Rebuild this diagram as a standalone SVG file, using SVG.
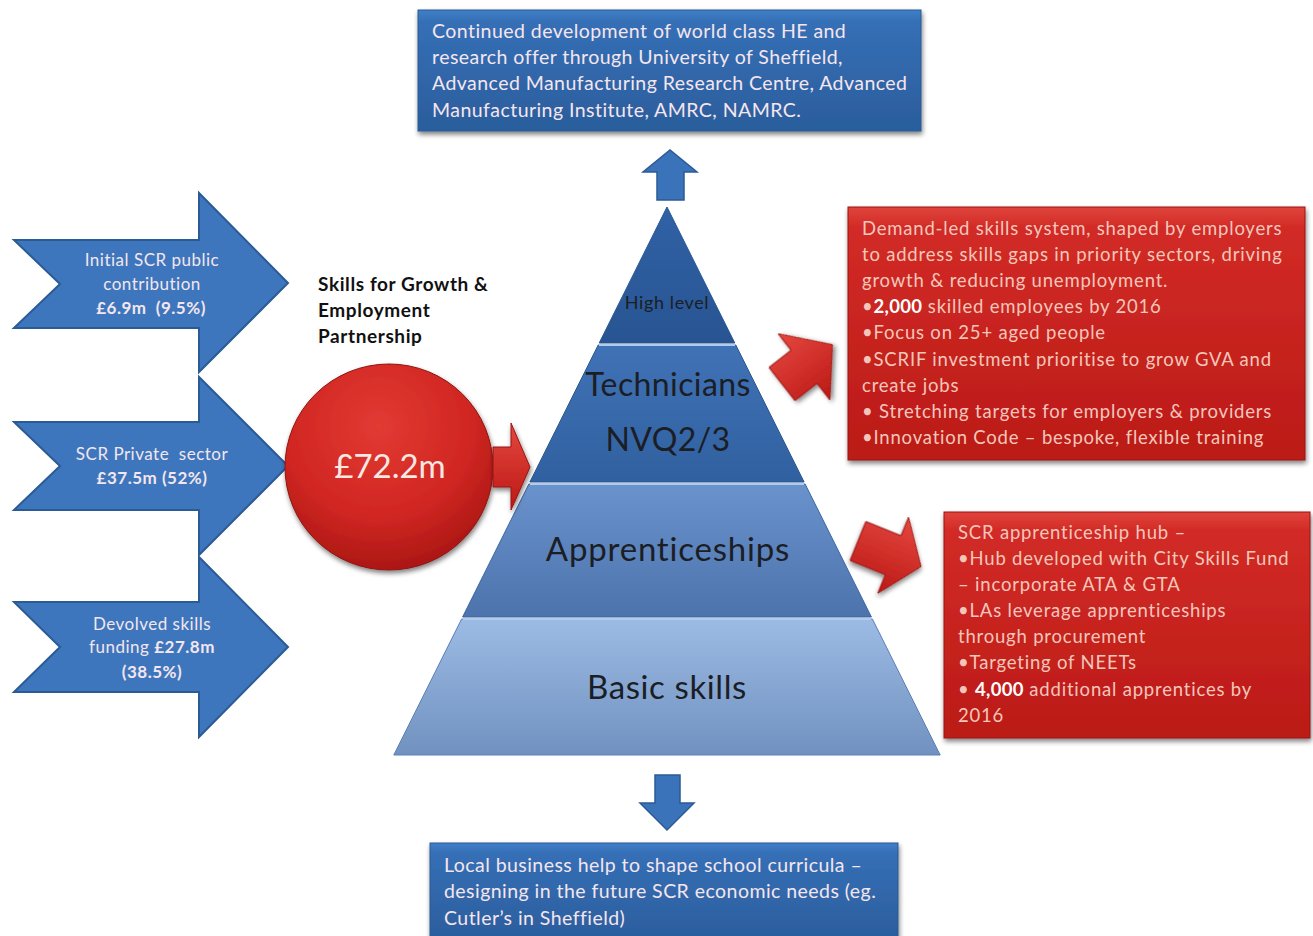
<svg xmlns="http://www.w3.org/2000/svg" width="1313" height="936" viewBox="0 0 1313 936">
<style>
.t{font-family:Lato,"Liberation Sans",sans-serif;white-space:pre}
.arrtxt{font-size:17px;letter-spacing:0.5px;fill:#f3e6ee;text-anchor:middle}
.b{font-weight:bold}
.boxtxt{font-size:19.5px;letter-spacing:0.45px;fill:#f5e6ee}
.redtxt{font-size:18.5px;letter-spacing:0.8px;fill:#f4c6bb}
.wb{font-weight:bold;fill:#ffffff;letter-spacing:0.3px}
.pyr{fill:#1b1e24;text-anchor:middle}
.lbl{font-size:19px;letter-spacing:0.6px;font-weight:bold;fill:#111111}
.blue-arrow{fill:#3e76bd;stroke:#2b5b95;stroke-width:2;stroke-linejoin:miter}
.tier-hl{stroke:#b3cbeb;stroke-width:2}
.shadow{filter:url(#sh)}
</style>
<defs>
<filter id="sh" x="-10%" y="-10%" width="120%" height="130%">
<feGaussianBlur in="SourceAlpha" stdDeviation="2.5"/>
<feOffset dx="1" dy="3" result="o"/>
<feComponentTransfer><feFuncA type="linear" slope="0.5"/></feComponentTransfer>
<feMerge><feMergeNode/><feMergeNode in="SourceGraphic"/></feMerge>
</filter>
<linearGradient id="gBlueBox" x1="0" y1="0" x2="0" y2="1">
<stop offset="0" stop-color="#3f7fc8"/><stop offset="0.1" stop-color="#356fb6"/><stop offset="1" stop-color="#2b5d9c"/>
</linearGradient>
<linearGradient id="gRedBox" x1="0" y1="0" x2="0" y2="1">
<stop offset="0" stop-color="#e0443c"/><stop offset="0.08" stop-color="#d22b26"/><stop offset="1" stop-color="#bb1a17"/>
</linearGradient>
<radialGradient id="gCircle" cx="0.45" cy="0.3" r="0.75">
<stop offset="0" stop-color="#e23a33"/><stop offset="0.6" stop-color="#d02622"/><stop offset="1" stop-color="#a51411"/>
</radialGradient>
<linearGradient id="gRedArrow" x1="0" y1="0" x2="0" y2="1">
<stop offset="0" stop-color="#e5473f"/><stop offset="1" stop-color="#bb1915"/>
</linearGradient>
<linearGradient id="gT1" x1="0" y1="0" x2="0" y2="1"><stop offset="0" stop-color="#3062a6"/><stop offset="1" stop-color="#285492"/></linearGradient>
<linearGradient id="gT2" x1="0" y1="0" x2="0" y2="1"><stop offset="0" stop-color="#4072b6"/><stop offset="1" stop-color="#30609f"/></linearGradient>
<linearGradient id="gT3" x1="0" y1="0" x2="0" y2="1"><stop offset="0" stop-color="#6a92cc"/><stop offset="1" stop-color="#4c73ac"/></linearGradient>
<linearGradient id="gT4" x1="0" y1="0" x2="0" y2="1"><stop offset="0" stop-color="#9cbbe4"/><stop offset="1" stop-color="#7191c0"/></linearGradient>
</defs>
<rect width="1313" height="936" fill="#ffffff"/>

<g id="top-box">
<rect class="shadow" x="418" y="10" width="503" height="121" fill="url(#gBlueBox)" stroke="#2a5a95" stroke-width="1"/>
<text class="t boxtxt" x="432" y="38">Continued development of world class HE and</text>
<text class="t boxtxt" x="432" y="64">research offer through University of Sheffield,</text>
<text class="t boxtxt" x="432" y="90">Advanced Manufacturing Research Centre, Advanced</text>
<text class="t boxtxt" x="432" y="117">Manufacturing Institute, AMRC, NAMRC.</text>
</g>

<g id="bottom-box">
<rect class="shadow" x="430" y="843" width="468" height="100" fill="url(#gBlueBox)" stroke="#2a5a95" stroke-width="1"/>
<text class="t boxtxt" x="444" y="872">Local business help to shape school curricula –</text>
<text class="t boxtxt" x="444" y="898">designing in the future SCR economic needs (eg.</text>
<text class="t boxtxt" x="444" y="925">Cutler’s in Sheffield)</text>
</g>

<g id="arrow-public">
<path class="blue-arrow" d="M14,240 H199 V193 L288,283 L199,372 V328 H14 L60,284 Z"/>
<text class="t arrtxt" x="152" y="266">Initial SCR public</text>
<text class="t arrtxt" x="152" y="290">contribution</text>
<text class="t arrtxt b" x="151" y="314">£6.9m  (9.5%)</text>
</g>
<g id="arrow-private">
<path class="blue-arrow" d="M14,422 H199 V377 L288,466 L199,555 V510 H14 L60,466 Z"/>
<text class="t arrtxt" x="152" y="460">SCR Private  sector</text>
<text class="t arrtxt b" x="152" y="484">£37.5m (52%)</text>
</g>
<g id="arrow-devolved">
<path class="blue-arrow" d="M14,602 H199 V557 L288,647 L199,737 V692 H14 L60,647 Z"/>
<text class="t arrtxt" x="152" y="630">Devolved skills</text>
<text class="t arrtxt" x="152" y="653">funding <tspan class="b">£27.8m</tspan></text>
<text class="t arrtxt b" x="152" y="678">(38.5%)</text>
</g>

<g id="partnership-label">
<text class="t lbl" x="318" y="291">Skills for Growth &amp;</text>
<text class="t lbl" x="318" y="317">Employment</text>
<text class="t lbl" x="318" y="343">Partnership</text>
</g>

<g id="fund-circle">
<ellipse class="shadow" cx="389" cy="467" rx="104" ry="103" fill="url(#gCircle)" stroke="#8e1410" stroke-width="1"/>
<text class="t" font-size="33" fill="#f8e8e2" text-anchor="middle" x="390" y="478">£72.2m</text>
</g>

<g id="pyramid">
<polygon id="tier-high" points="667,207 734.8,343 599.2,343" fill="url(#gT1)" stroke="#2a5590" stroke-width="1"/>
<polygon id="tier-tech" points="598.2,345 735.8,345 804.1,482 529.9,482" fill="url(#gT2)" stroke="#2a5590" stroke-width="1"/>
<polygon id="tier-app" points="528.9,484 805.1,484 871.4,617 462.6,617" fill="url(#gT3)" stroke="#3a64a0" stroke-width="1"/>
<polygon id="tier-basic" points="461.6,619 872.4,619 940.2,755 393.8,755" fill="url(#gT4)" stroke="#5a80b6" stroke-width="1"/>
<line class="tier-hl" x1="599" y1="345" x2="735" y2="345"/>
<line class="tier-hl" x1="530" y1="484" x2="804" y2="484"/>
<line class="tier-hl" x1="463" y1="619" x2="871" y2="619"/>
<text class="t pyr" font-size="18" letter-spacing="0.6" x="667" y="309">High level</text>
<text class="t pyr" font-size="32" letter-spacing="0.4" x="668" y="396">Technicians</text>
<text class="t pyr" font-size="32" letter-spacing="0.4" x="668" y="451">NVQ2/3</text>
<text class="t pyr" font-size="33" letter-spacing="0.8" x="668" y="561">Apprenticeships</text>
<text class="t pyr" font-size="33" letter-spacing="0.6" x="667" y="699">Basic skills</text>
</g>

<g id="box-demand">
<rect class="shadow" x="848" y="207" width="457" height="253" fill="url(#gRedBox)" stroke="#9a1410" stroke-width="1"/>
<text class="t redtxt" x="862" y="235">Demand-led skills system, shaped by employers</text>
<text class="t redtxt" x="862" y="261">to address skills gaps in priority sectors, driving</text>
<text class="t redtxt" x="862" y="287">growth &amp; reducing unemployment.</text>
<text class="t redtxt" x="862" y="313">•<tspan class="wb">2,000</tspan> skilled employees by 2016</text>
<text class="t redtxt" x="862" y="339">•Focus on 25+ aged people</text>
<text class="t redtxt" x="862" y="366">•SCRIF investment prioritise to grow GVA and</text>
<text class="t redtxt" x="862" y="392">create jobs</text>
<text class="t redtxt" x="862" y="418">• Stretching targets for employers &amp; providers</text>
<text class="t redtxt" x="862" y="444">•Innovation Code – bespoke, flexible training</text>
</g>

<g id="box-apprentice">
<rect class="shadow" x="944" y="512" width="366" height="226" fill="url(#gRedBox)" stroke="#9a1410" stroke-width="1"/>
<text class="t redtxt" x="958" y="539">SCR apprenticeship hub –</text>
<text class="t redtxt" x="958" y="565">•Hub developed with City Skills Fund</text>
<text class="t redtxt" x="958" y="591">– incorporate ATA &amp; GTA</text>
<text class="t redtxt" x="958" y="617">•LAs leverage apprenticeships</text>
<text class="t redtxt" x="958" y="643">through procurement</text>
<text class="t redtxt" x="958" y="669">•Targeting of NEETs</text>
<text class="t redtxt" x="958" y="696">• <tspan class="wb">4,000</tspan> additional apprentices by</text>
<text class="t redtxt" x="958" y="722">2016</text>
</g>

<g id="connectors">
<path d="M657,200 V172 H643 L670,150 L697,172 H684 V200 Z" fill="#3b73ba" stroke="#2b5b95" stroke-width="1.5"/>
<path d="M655,775 H680 V803 H694 L667,830 L640,803 H655 Z" fill="#3b73ba" stroke="#2b5b95" stroke-width="1.5"/>
<path class="shadow" d="M493,447 H511 V423 L530,467 L511,510 V487 H493 Z" fill="url(#gRedArrow)" stroke="#9a1410" stroke-width="1"/>
<g transform="translate(782,384) rotate(-38)">
<path class="shadow" d="M0,-21 H28 V-42 L64,0 L28,42 V21 H0 Z" fill="url(#gRedArrow)" stroke="#9a1410" stroke-width="1"/>
</g>
<g transform="translate(858,541) rotate(22)">
<path class="shadow" d="M0,-21 H38 V-41 L68,0 L38,41 V21 H0 Z" fill="url(#gRedArrow)" stroke="#9a1410" stroke-width="1"/>
</g>
</g>
</svg>
